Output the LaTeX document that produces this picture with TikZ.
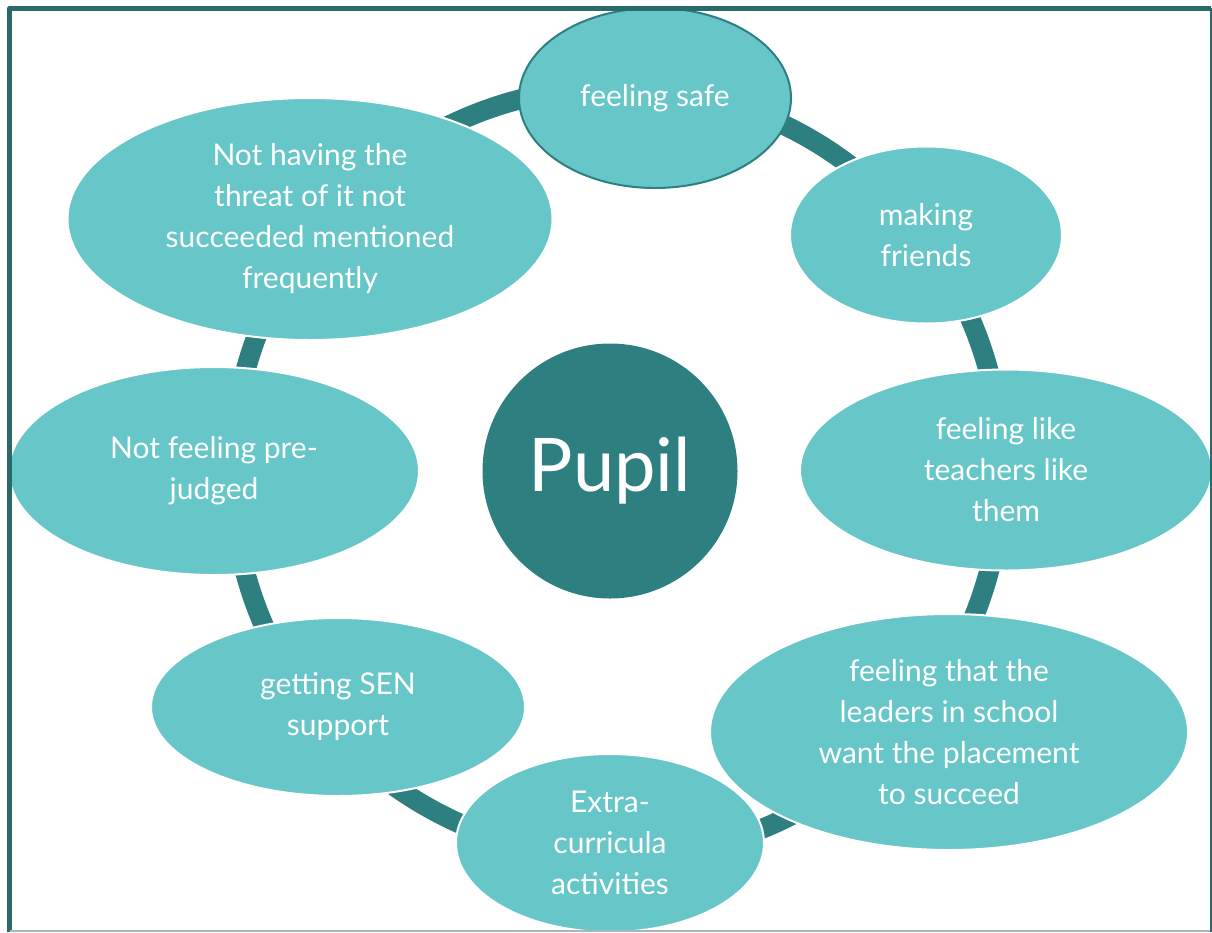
\documentclass[tikz,border=0pt]{standalone}
\usepackage{fontspec}
\setmainfont{Lato}
\usepackage{xcolor}
\usepackage{tikz}
\usetikzlibrary{shapes.geometric}
\definecolor{ringteal}{HTML}{2E7F80}
\definecolor{petalfill}{HTML}{66C6C8}
\definecolor{frameteal}{HTML}{2A6A6B}
\definecolor{framegrey}{HTML}{A9B7BC}

\begin{document}
\begin{tikzpicture}[x=1pt,y=-1pt,
  petal/.style={ellipse,fill=petalfill,draw=white,line width=2pt,inner sep=0pt,
    text=white,align=center,font=\fontsize{30}{41}\selectfont},
  hub/.style={circle,fill=ringteal,inner sep=0pt,minimum size=255pt,
    text=white,font=\fontsize{74}{80}\selectfont}]
  \useasboundingbox (0,0) rectangle (1212,932);
  % ---- the ring behind everything ----
  \coordinate (ringc) at (617,472);
  \draw[ringteal,line width=20pt] (ringc) circle [radius=385];
  % ---- centre ----
  \node[hub] (pupil) at (610,471) {Pupil};
  % ---- the eight petals, clockwise from the top ----
  \node[petal,draw=ringteal,minimum width=272pt,minimum height=180pt] (safe) at (655,98) {feeling safe};
  \node[petal,minimum width=272pt,minimum height=177pt] (friends) at (926,235) {making\\friends};
  \node[petal,minimum width=412pt,minimum height=201pt] (liked) at (1006,470) {feeling like\\teachers like\\them};
  \node[petal,minimum width=478pt,minimum height=236pt] (leaders) at (949,732) {feeling that the\\leaders in school\\want the placement\\to succeed};
  \node[petal,minimum width=308pt,minimum height=178pt] (extra) at (610,843) {Extra-\\curricula\\activities};
  \node[petal,minimum width=374pt,minimum height=178pt] (sen) at (338,707) {getting SEN\\support};
  \node[petal,minimum width=410pt,minimum height=208pt] (prejudged) at (214,471) {Not feeling pre-\\judged};
  \node[petal,minimum width=485pt,minimum height=242pt] (threat) at (310,219) {Not having the\\threat of it not\\succeeded mentioned\\frequently};
  % ---- frame ----
  \draw[frameteal,line width=5pt,line join=round] (9.2,932) -- (9.2,8.4) -- (1211,8.4);
  \draw[frameteal,line width=2pt] (1211,8.4) -- (1211,932);
  \draw[framegrey,line width=1.5pt] (10,931.2) -- (1210,931.2);
\end{tikzpicture}
\end{document}
